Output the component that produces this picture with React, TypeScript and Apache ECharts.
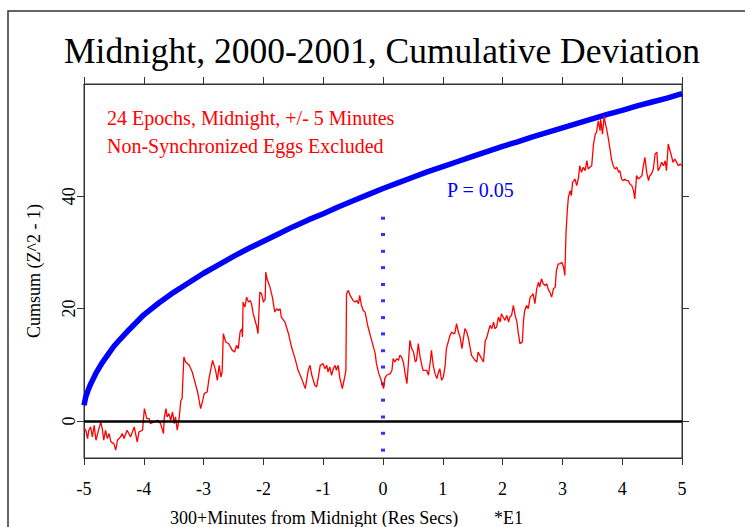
import React, { useEffect, useRef } from "react";
import * as echarts from "echarts";

// ---- data ----
const titleText = "Midnight, 2000-2001, Cumulative Deviation";
const noteLines = ["24 Epochs, Midnight, +/- 5 Minutes", "Non-Synchronized Eggs Excluded"];
const pLabel = "P = 0.05";
const xAxisTitle = "300+Minutes from Midnight (Res Secs)";
const xAxisSuffix = "*E1";
const yAxisTitle = "Cumsum (Z^2 - 1)";

const xMin = -5;
const xMax = 5;
const yMin = -6.6;
const yMax = 60;
const yTickValues = [0, 20, 40];

// cumulative deviation (red), in four segments
const devSeg1: [number, number][] = [
  [-5.0, -1.2], [-4.97, -1.66], [-4.94, -3.14], [-4.92, -1.66], [-4.89, -1.07], [-4.86, -2.84], [-4.83, -0.77],
  [-4.8, -3.44], [-4.75, -1.36], [-4.72, -0.18], [-4.69, -1.66], [-4.67, -3.44], [-4.64, -1.66], [-4.61, -3.14],
  [-4.58, -2.25], [-4.55, -3.73], [-4.5, -4.03], [-4.47, -5.21], [-4.44, -3.44], [-4.39, -2.84], [-4.36, -2.25],
  [-4.33, -3.14], [-4.28, -1.66], [-4.22, -2.84], [-4.16, -1.07], [-4.11, -3.73], [-4.08, -1.95], [-4.02, -1.66],
  [-4.01, -0.18], [-3.99, 2.19], [-3.95, 0.42], [-3.91, 0.42], [-3.89, -0.47], [-3.83, -0.18], [-3.77, 0.12],
  [-3.72, -0.47], [-3.67, -2.25], [-3.66, 0.42], [-3.63, 2.19], [-3.61, 0.71], [-3.58, 1.31], [-3.55, 0.12],
  [-3.52, 1.6], [-3.49, -0.47], [-3.47, 0.71], [-3.44, -1.66], [-3.41, 0.42], [-3.38, 3.68], [-3.36, 3.97],
  [-3.33, 11.38], [-3.3, 10.49], [-3.24, 9.9], [-3.19, 8.71], [-3.16, 7.53], [-3.1, 5.16], [-3.05, 2.19],
  [-3.02, 3.38], [-2.99, 4.86], [-2.94, 5.16], [-2.91, 7.53], [-2.85, 10.79], [-2.8, 9.01], [-2.77, 7.23],
  [-2.74, 9.9], [-2.71, 7.82], [-2.69, 8.71], [-2.67, 15.53], [-2.63, 14.05], [-2.58, 13.75], [-2.52, 12.56],
];
const devSeg2: [number, number][] = [
  [-2.48, 12.27], [-2.45, 13.46], [-2.42, 12.87], [-2.39, 15.83], [-2.36, 16.42], [-2.35, 14.94], [-2.34, 21.16],
  [-2.31, 20.27], [-2.28, 22.05], [-2.25, 21.16], [-2.22, 21.46], [-2.2, 20.87], [-2.17, 19.09], [-2.11, 16.72],
  [-2.09, 15.53], [-2.06, 22.94], [-2.03, 22.64], [-2.0, 21.16], [-1.97, 21.76], [-1.96, 26.5], [-1.94, 25.31],
  [-1.89, 23.83], [-1.85, 22.05], [-1.81, 19.39], [-1.78, 19.98], [-1.75, 19.68], [-1.72, 19.98], [-1.7, 18.5],
  [-1.64, 17.61], [-1.58, 15.53], [-1.53, 13.16], [-1.47, 11.09], [-1.42, 9.01], [-1.36, 7.53], [-1.3, 5.75],
  [-1.25, 9.01], [-1.22, 9.9], [-1.19, 8.13], [-1.14, 6.35], [-1.11, 6.05], [-1.08, 7.83], [-1.05, 9.9],
  [-1.0, 10.2], [-0.97, 9.31], [-0.94, 9.9], [-0.92, 8.72], [-0.89, 9.61], [-0.86, 8.13], [-0.83, 9.31],
  [-0.8, 9.9], [-0.78, 9.01], [-0.75, 9.9], [-0.72, 7.53], [-0.68, 5.75], [-0.64, 7.83], [-0.62, 9.01],
  [-0.61, 22.64], [-0.58, 23.24], [-0.55, 22.35], [-0.5, 21.46], [-0.47, 21.16], [-0.44, 21.46], [-0.41, 20.87],
  [-0.39, 22.35], [-0.36, 20.57], [-0.33, 19.68], [-0.3, 19.39], [-0.25, 16.72], [-0.19, 14.35], [-0.13, 11.98],
  [-0.11, 10.2], [-0.07, 8.42], [-0.02, 6.94],
];
const devSeg3: [number, number][] = [
  [0.01, 5.76], [0.03, 7.54], [0.06, 8.13], [0.12, 8.43], [0.15, 9.02], [0.17, 11.09], [0.2, 10.5], [0.23, 11.09],
  [0.26, 10.8], [0.28, 11.68], [0.31, 11.39], [0.34, 10.5], [0.37, 8.43], [0.4, 6.65], [0.42, 9.61], [0.45, 14.35],
  [0.48, 12.87], [0.51, 12.28], [0.54, 10.5], [0.56, 10.8], [0.59, 13.76], [0.62, 11.39], [0.65, 9.91], [0.67, 9.02],
  [0.73, 9.02], [0.76, 8.13], [0.79, 10.5], [0.81, 12.57], [0.84, 9.91], [0.87, 8.43], [0.9, 7.54], [0.93, 8.72],
  [0.95, 9.31], [0.98, 7.24], [1.01, 7.83], [1.04, 9.91], [1.06, 12.87], [1.09, 14.06], [1.12, 15.24], [1.15, 15.83],
  [1.18, 15.54], [1.2, 15.54], [1.23, 17.31], [1.26, 15.83], [1.29, 14.94], [1.32, 12.87], [1.34, 14.35], [1.37, 16.43],
  [1.4, 15.83], [1.43, 14.65], [1.46, 12.87], [1.48, 11.68], [1.54, 10.8], [1.57, 10.5], [1.59, 12.28], [1.62, 11.68],
  [1.68, 10.5], [1.71, 14.35], [1.73, 14.65], [1.76, 15.83], [1.79, 17.02], [1.82, 16.43], [1.85, 17.61], [1.87, 16.43],
  [1.9, 16.72], [1.93, 18.5], [1.96, 17.61], [1.98, 19.09], [2.01, 18.5], [2.04, 17.91], [2.07, 18.8], [2.1, 17.61],
  [2.12, 18.5], [2.15, 18.8], [2.18, 20.57], [2.21, 18.8], [2.24, 17.61], [2.26, 15.83], [2.29, 13.76], [2.33, 14.06],
  [2.35, 17.91], [2.37, 19.68], [2.4, 20.57], [2.43, 19.98], [2.46, 22.05], [2.49, 22.35], [2.51, 22.65], [2.54, 20.87],
];
const devSeg4: [number, number][] = [
  [2.57, 23.53], [2.6, 24.71], [2.62, 23.83], [2.65, 25.31], [2.68, 24.42], [2.71, 24.12], [2.74, 24.42], [2.76, 23.53],
  [2.79, 22.94], [2.82, 22.05], [2.85, 23.53], [2.88, 23.83], [2.9, 26.79], [2.93, 27.97], [2.96, 27.97], [2.99, 28.27],
  [3.02, 27.38], [3.04, 25.9], [3.06, 33.31], [3.08, 37.16], [3.1, 39.83], [3.13, 41.01], [3.15, 40.12], [3.17, 42.49],
  [3.21, 43.08], [3.24, 41.9], [3.27, 43.38], [3.29, 45.45], [3.32, 44.27], [3.35, 45.16], [3.38, 44.57], [3.41, 46.34],
  [3.43, 44.86], [3.46, 45.16], [3.49, 45.45], [3.52, 49.31], [3.55, 51.08], [3.57, 51.38], [3.6, 53.45], [3.63, 51.68],
  [3.64, 53.75], [3.67, 51.08], [3.7, 54.34], [3.71, 53.45], [3.74, 51.97], [3.77, 50.2], [3.8, 48.12], [3.82, 46.64],
  [3.85, 45.45], [3.88, 44.86], [3.91, 45.16], [3.94, 44.27], [3.96, 44.57], [3.99, 43.08], [4.02, 42.79], [4.05, 43.08],
  [4.07, 42.79], [4.1, 42.79], [4.13, 42.2], [4.16, 41.9], [4.19, 41.01], [4.21, 39.53], [4.23, 42.2], [4.24, 43.68],
  [4.27, 43.08], [4.3, 43.38], [4.33, 43.68], [4.35, 45.16], [4.38, 46.94], [4.41, 44.27], [4.44, 42.79], [4.46, 43.68],
  [4.49, 43.97], [4.52, 44.86], [4.55, 47.53], [4.58, 47.83], [4.6, 44.57], [4.63, 45.16], [4.66, 46.05], [4.69, 45.45],
  [4.72, 46.34], [4.74, 44.57], [4.77, 49.31], [4.8, 48.12], [4.83, 46.94], [4.85, 46.05], [4.88, 46.64], [4.91, 46.05],
  [4.94, 45.45], [4.97, 45.75], [5.0, 45.45],
];

// P = 0.05 envelope (blue)
const envelopeX = [
  -5, -4.97, -4.93, -4.9, -4.85, -4.8, -4.7, -4.6, -4.5, -4.4, -4.25, -4, -3.75, -3.5, -3.25, -3, -2.75, -2.5,
  -2.25, -2, -1.75, -1.5, -1.25, -1, -0.75, -0.5, -0.25, 0, 0.25, 0.5, 0.75, 1, 1.25, 1.5, 1.75, 2, 2.25, 2.5,
  2.75, 3, 3.25, 3.5, 3.75, 4, 4.25, 4.5, 4.75, 5,
];
const envelopeY = [
  2.8, 4.3, 5.5, 6.3, 7.4, 8.5, 10.3, 11.8, 13.3, 14.5, 16.2, 18.9, 21.0, 22.9, 24.6, 26.3, 27.8, 29.3,
  30.7, 32.0, 33.3, 34.6, 35.8, 36.9, 38.1, 39.2, 40.3, 41.4, 42.4, 43.4, 44.4, 45.3, 46.2, 47.1, 48.0, 48.9, 49.7, 50.6,
  51.4, 52.2, 53.0, 53.8, 54.6, 55.3, 56.1, 56.8, 57.5, 58.3,
];

// dotted marker at midnight (blue)
const midnightX = 0;
const midnightDotsY = [36.1, 33.2, 30.2, 27.3, 24.3, 21.4, 18.4, 15.5, 12.5, 9.6, 6.6, 3.7, 0.7, -2.2, -5.2];

const SERIF = "'Liberation Serif', 'Times New Roman', 'DejaVu Serif', serif";

export default function App() {
  const ref = useRef<HTMLDivElement>(null);

  useEffect(() => {
    if (!ref.current) return;
    const chart = echarts.init(ref.current, null, { renderer: "svg" });

    const devData = [...devSeg1, ...devSeg2, ...devSeg3, ...devSeg4];
    const envData = envelopeX.map((x, i) => [x, envelopeY[i]]);
    const dotData = midnightDotsY.map((y) => [midnightX, y]);

    const axisLineStyle = { show: true, onZero: false, lineStyle: { color: "#333", width: 1 } };
    const tickStyle = { show: true, length: 7, lineStyle: { color: "#333", width: 1 } };

    chart.setOption({
      animation: false,
      backgroundColor: "#ffffff",
      grid: { left: 84, top: 84, right: 63, bottom: 69, show: true, borderColor: "#333", borderWidth: 1, backgroundColor: "transparent" },
      xAxis: [
        {
          type: "value", min: xMin, max: xMax, interval: 1, position: "bottom",
          axisLine: axisLineStyle, axisTick: tickStyle,
          axisLabel: { color: "#000", fontFamily: SERIF, fontSize: 18, margin: 22 },
          splitLine: { show: false },
        },
        {
          type: "value", min: xMin, max: xMax, interval: 1, position: "top",
          axisLine: axisLineStyle, axisTick: tickStyle,
          axisLabel: { show: false }, splitLine: { show: false },
        },
      ],
      yAxis: [
        {
          type: "value", min: yMin, max: yMax, position: "left",
          axisLine: axisLineStyle,
          axisTick: { ...tickStyle, customValues: yTickValues },
          axisLabel: { customValues: yTickValues, rotate: 90, color: "#000", fontFamily: SERIF, fontSize: 18, margin: 6 },
          splitLine: { show: false },
          name: yAxisTitle, nameLocation: "middle", nameGap: 41, nameRotate: 90,
          nameTextStyle: { color: "#000", fontFamily: SERIF, fontSize: 18 },
        },
        {
          type: "value", min: yMin, max: yMax, position: "right",
          axisLine: axisLineStyle,
          axisTick: { ...tickStyle, customValues: yTickValues },
          axisLabel: { show: false }, splitLine: { show: false },
        },
      ],
      series: [
        {
          type: "scatter", name: "midnight", data: dotData, symbol: "rect", symbolSize: [4, 3],
          itemStyle: { color: "#0000ff" }, silent: true, z: 2,
        },
        {
          type: "line", name: "P = 0.05", data: envData, showSymbol: false, symbol: "none",
          lineStyle: { color: "#0000ff", width: 5.5 }, silent: true, z: 3,
        },
        {
          type: "line", name: "Cumsum", data: devData, showSymbol: false, symbol: "none",
          lineStyle: { color: "#ff0000", width: 1.3 }, silent: true, z: 4,
          markLine: {
            silent: true, symbol: ["none", "none"], label: { show: false },
            lineStyle: { color: "#000", width: 2.5, type: "solid" },
            data: [{ yAxis: 0 }],
          },
        },
      ],
      graphic: [
        {
          type: "rect", silent: true, z: -1,
          shape: { x: 8, y: 11, width: 800, height: 600 },
          style: { fill: "none", stroke: "#333", lineWidth: 1.5 },
        },
        {
          type: "text", x: 382, y: 51, silent: true,
          style: { text: titleText, fontFamily: SERIF, fontSize: 35.5, fill: "#000", textAlign: "center", textVerticalAlign: "middle" },
        },
        {
          type: "text", x: 107, y: 118, silent: true,
          style: { text: noteLines[0], fontFamily: SERIF, fontSize: 20, fill: "#ff0000", textVerticalAlign: "middle" },
        },
        {
          type: "text", x: 107, y: 146, silent: true,
          style: { text: noteLines[1], fontFamily: SERIF, fontSize: 20, fill: "#ff0000", textVerticalAlign: "middle" },
        },
        {
          type: "text", x: 447, y: 190, silent: true,
          style: { text: pLabel, fontFamily: SERIF, fontSize: 20, fill: "#0000ff", textVerticalAlign: "middle" },
        },
        {
          type: "text", x: 170, y: 518, silent: true,
          style: { text: xAxisTitle, fontFamily: SERIF, fontSize: 18, fill: "#000", textVerticalAlign: "middle" },
        },
        {
          type: "text", x: 494, y: 518, silent: true,
          style: { text: xAxisSuffix, fontFamily: SERIF, fontSize: 18, fill: "#000", textVerticalAlign: "middle" },
        },
      ],
    });

    return () => chart.dispose();
  }, []);

  return <div ref={ref} style={{ width: 745, height: 527, position: "absolute", left: 0, top: 0 }} />;
}
